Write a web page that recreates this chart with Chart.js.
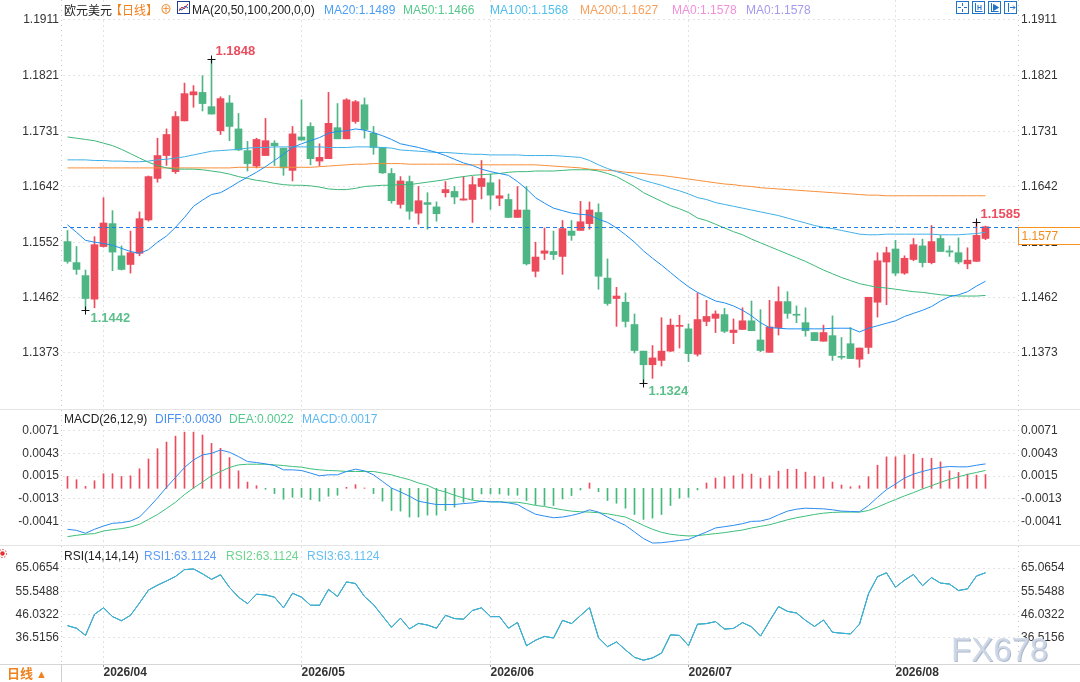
<!DOCTYPE html>
<html lang="zh">
<head>
<meta charset="UTF-8">
<title>欧元美元 日线</title>
<script src="https://cdn.jsdelivr.net/npm/chart.js"></script>
<style>
  body { margin: 0; background: #fff; }
  #wrap { position: relative; width: 1080px; height: 682px; overflow: hidden; background: #fff;
          font-family: "Liberation Sans", Arial, "Noto Sans CJK SC", sans-serif; font-size: 12px; }
  canvas { position: absolute; left: 0; }
  .t { position: absolute; line-height: 14px; white-space: nowrap; }
  .cjk { font-family: "Noto Sans CJK SC", sans-serif; }
  .hr { position: absolute; left: 0; width: 1080px; height: 1px; background: #e4e4e4; }
</style>
</head>
<body>
<div id="wrap">
  <canvas id="main" width="1080" height="409" style="top:0"></canvas>
  <canvas id="macd" width="1080" height="135" style="top:410px"></canvas>
  <canvas id="rsi" width="1080" height="136" style="top:546px"></canvas>

  <div class="hr" style="top:409px"></div>
  <div class="hr" style="top:545px"></div>
  <div class="hr" style="top:664px;background:#d6d6d6"></div>
  <div style="position:absolute;left:61px;top:664px;width:1px;height:18px;background:#cfcfcf"></div>

  <!-- main header -->
  <span class="t cjk" style="left:64px;top:3px;color:#222">欧元美元</span>
  <span class="t cjk" style="left:110px;top:3px;color:#f0821e">【日线】</span>
  <span class="t" style="left:160px;top:3px;color:#f0821e">⊕</span>
  <svg style="position:absolute;left:177px;top:1px" width="13" height="13">
    <rect x="0.5" y="0.5" width="12" height="12" fill="#fff" stroke="#1c3f94"/>
    <polyline points="2,10 5,6 7,8 11,3" fill="none" stroke="#e02020"/>
    <polyline points="2,8 5,9 8,5 11,7" fill="none" stroke="#2050c0"/>
  </svg>
  <span class="t" style="left:192px;top:3px;color:#222">MA(20,50,100,200,0,0)</span>
  <span class="t" id="hMA20" style="left:324px;top:3px;color:#4a9ff5"></span>
  <span class="t" id="hMA50" style="left:403px;top:3px;color:#55c98d"></span>
  <span class="t" id="hMA100" style="left:490px;top:3px;color:#4fc0ee"></span>
  <span class="t" id="hMA200" style="left:580px;top:3px;color:#f7a05c"></span>
  <span class="t" style="left:672px;top:3px;color:#f090d8">MA0:1.1578</span>
  <span class="t" style="left:746px;top:3px;color:#a49af0">MA0:1.1578</span>

  <!-- tool icons -->
  <svg style="position:absolute;left:956px;top:1px" width="13" height="13" stroke="#1f74c9" fill="none">
    <rect x="0.5" y="0.5" width="12" height="12"/>
    <path d="M6.5 2v3M6.5 8v3M2 6.5h3M8 6.5h3"/>
  </svg>
  <svg style="position:absolute;left:972px;top:1px" width="13" height="13" stroke="#1f74c9" fill="none">
    <rect x="0.5" y="0.5" width="12" height="12"/>
    <path d="M3.5 2v9M3.5 10.5h7M6 4v5M9 4v5M6 6.5h3"/>
  </svg>
  <svg style="position:absolute;left:988px;top:1px" width="13" height="13" stroke="#1f74c9" fill="none">
    <rect x="0.5" y="0.5" width="12" height="12"/>
    <path d="M3.5 2v9M3.5 10.5h7"/><path d="M5.5 3.5l5 3-5 3z" fill="#1f74c9"/>
  </svg>
  <svg style="position:absolute;left:1004px;top:1px" width="13" height="13" stroke="#1f74c9" fill="none">
    <rect x="0.5" y="0.5" width="12" height="12"/>
    <path d="M4.5 2v9M6 6.5h5M9 4.5l2 2-2 2"/>
  </svg>

  <!-- macd header -->
  <span class="t" style="left:64px;top:412px;color:#222">MACD(26,12,9)</span>
  <span class="t" id="hDIFF" style="left:155px;top:412px;color:#4a90f0"></span>
  <span class="t" id="hDEA" style="left:229px;top:412px;color:#55c98d"></span>
  <span class="t" id="hMACD" style="left:302px;top:412px;color:#5cb8f0"></span>

  <!-- rsi header -->
  <svg style="position:absolute;left:-2px;top:549px" width="10" height="10">
    <circle cx="4.5" cy="4.5" r="2.2" fill="#e43030"/>
    <circle cx="4.5" cy="4.5" r="4" fill="none" stroke="#e43030" stroke-dasharray="1.5 1.5"/>
  </svg>
  <span class="t" style="left:64px;top:549px;color:#222">RSI(14,14,14)</span>
  <span class="t" id="hRSI1" style="left:144px;top:549px;color:#5d9cf5"></span>
  <span class="t" id="hRSI2" style="left:226px;top:549px;color:#6dd48f"></span>
  <span class="t" id="hRSI3" style="left:307px;top:549px;color:#66bff2"></span>

  <span class="t cjk" style="left:7px;top:666px;color:#f0821e;font-weight:bold;font-size:13px">日线</span>
  <span class="t" style="left:36px;top:667px;color:#f0821e;font-size:11px">▲</span>

  <span class="t" style="left:951px;top:630px;font-size:33px;line-height:40px;color:rgba(206,216,231,0.92);text-shadow:1px 1px 0 #aeb9cb">FX678</span>
</div>

<script>
// trading days shown
const dates = [
  '2026-03-26','2026-03-27','2026-03-30','2026-03-31',
  '2026-04-01','2026-04-02','2026-04-03','2026-04-06','2026-04-07','2026-04-08','2026-04-09','2026-04-10',
  '2026-04-13','2026-04-14','2026-04-15','2026-04-16','2026-04-17','2026-04-20','2026-04-21','2026-04-22',
  '2026-04-23','2026-04-24','2026-04-27','2026-04-28','2026-04-29','2026-04-30',
  '2026-05-01','2026-05-04','2026-05-05','2026-05-06','2026-05-07','2026-05-08','2026-05-11','2026-05-12',
  '2026-05-13','2026-05-14','2026-05-15','2026-05-18','2026-05-19','2026-05-20','2026-05-21','2026-05-22',
  '2026-05-25','2026-05-26','2026-05-27','2026-05-28','2026-05-29',
  '2026-06-01','2026-06-02','2026-06-03','2026-06-04','2026-06-05','2026-06-08','2026-06-09','2026-06-10',
  '2026-06-11','2026-06-12','2026-06-15','2026-06-16','2026-06-17','2026-06-18','2026-06-19','2026-06-22',
  '2026-06-23','2026-06-24','2026-06-25','2026-06-26','2026-06-29','2026-06-30',
  '2026-07-01','2026-07-02','2026-07-03','2026-07-06','2026-07-07','2026-07-08','2026-07-09','2026-07-10',
  '2026-07-13','2026-07-14','2026-07-15','2026-07-16','2026-07-17','2026-07-20','2026-07-21','2026-07-22',
  '2026-07-23','2026-07-24','2026-07-27','2026-07-28','2026-07-29','2026-07-30','2026-07-31',
  '2026-08-03','2026-08-04','2026-08-05','2026-08-06','2026-08-07','2026-08-10','2026-08-11','2026-08-12',
  '2026-08-13','2026-08-14','2026-08-17'
];

const open = [
  1.1553,1.1519,1.1498,1.1460,1.1545,1.1582,1.1530,1.1516,1.1534,1.1588,
  1.1655,1.1692,1.1666,1.1748,1.1790,1.1794,1.1771,1.1732,1.1777,1.1735,
  1.1700,1.1675,1.1692,1.1712,1.1704,1.1668,1.1722,1.1739,1.1683,1.1687,
  1.1737,1.1719,1.1747,1.1774,1.1728,1.1705,1.1663,1.1613,1.1650,1.1599,
  1.1616,1.1609,1.1632,1.1634,1.1620,1.1621,1.1642,1.1648,1.1623,1.1621,
  1.1592,1.1604,1.1505,1.1534,1.1537,1.1529,1.1570,1.1571,1.1582,1.1600,
  1.1494,1.1461,1.1455,1.1419,1.1376,1.1354,1.1361,1.1376,1.1416,1.1412,
  1.1371,1.1424,1.1429,1.1435,1.1406,1.1411,1.1425,1.1394,1.1374,1.1414,
  1.1456,1.1435,1.1422,1.1406,1.1392,1.1401,1.1367,1.1388,1.1363,1.1382,
  1.1455,1.1520,1.1541,1.1502,1.1524,1.1546,1.1519,1.1558,1.1538,1.1535,
  1.1517,1.1521,1.1558
];
const high = [
  1.1571,1.1545,1.1507,1.1561,1.1624,1.1603,1.1546,1.1570,1.1601,1.1659,
  1.1720,1.1735,1.1763,1.1809,1.1805,1.1821,1.1848,1.1787,1.1789,1.1760,
  1.1715,1.1720,1.1752,1.1716,1.1704,1.1739,1.1782,1.1745,1.1711,1.1794,
  1.1776,1.1784,1.1781,1.1785,1.1739,1.1705,1.1671,1.1658,1.1659,1.1642,
  1.1632,1.1617,1.1650,1.1642,1.1658,1.1658,1.1684,1.1662,1.1653,1.1630,
  1.1642,1.1642,1.1552,1.1575,1.1570,1.1587,1.1587,1.1618,1.1617,1.1614,
  1.1525,1.1479,1.1470,1.1436,1.1376,1.1385,1.1430,1.1428,1.1434,1.1420,
  1.1470,1.1458,1.1441,1.1445,1.1428,1.1446,1.1457,1.1443,1.1458,1.1480,
  1.1472,1.1449,1.1446,1.1406,1.1418,1.1433,1.1398,1.1414,1.1381,1.1463,
  1.1535,1.1544,1.1555,1.1530,1.1558,1.1557,1.1579,1.1563,1.1546,1.1559,
  1.1543,1.1585,1.1578
];
const low = [
  1.1518,1.1500,1.1442,1.1446,1.1544,1.1506,1.1507,1.1502,1.1530,1.1586,
  1.1649,1.1676,1.1663,1.1748,1.1770,1.1764,1.1759,1.1726,1.1716,1.1700,
  1.1667,1.1672,1.1692,1.1676,1.1660,1.1651,1.1717,1.1677,1.1675,1.1687,
  1.1719,1.1719,1.1744,1.1720,1.1694,1.1663,1.1615,1.1607,1.1589,1.1581,
  1.1573,1.1586,1.1625,1.1614,1.1620,1.1584,1.1622,1.1605,1.1611,1.1592,
  1.1592,1.1515,1.1496,1.1524,1.1524,1.1500,1.1555,1.1571,1.1573,1.1476,
  1.1450,1.1416,1.1415,1.1373,1.1324,1.1332,1.1352,1.1375,1.1381,1.1359,
  1.1368,1.1417,1.1406,1.1406,1.1388,1.1411,1.1409,1.1375,1.1374,1.1402,
  1.1429,1.1422,1.1400,1.1393,1.1392,1.1361,1.1363,1.1364,1.1350,1.1372,
  1.1431,1.1451,1.1498,1.1500,1.1522,1.1512,1.1517,1.1537,1.1529,1.1517,
  1.1509,1.1521,1.1556
];
const close = [
  1.1521,1.1508,1.1461,1.1548,1.1583,1.1536,1.1508,1.1535,1.1590,1.1658,
  1.1692,1.1726,1.1755,1.1792,1.1795,1.1776,1.1759,1.1784,1.1739,1.1701,
  1.1679,1.1718,1.1716,1.1708,1.1672,1.1727,1.1717,1.1687,1.1689,1.1744,
  1.1719,1.1782,1.1779,1.1734,1.1705,1.1664,1.1619,1.1651,1.1602,1.1619,
  1.1613,1.1598,1.1637,1.1625,1.1622,1.1645,1.1655,1.1628,1.1627,1.1592,
  1.1604,1.1517,1.1528,1.1538,1.1532,1.1574,1.1563,1.1585,1.1604,1.1497,
  1.1453,1.1465,1.1424,1.1377,1.1354,1.1365,1.1376,1.1418,1.1417,1.1372,
  1.1427,1.1432,1.1436,1.1408,1.1410,1.1425,1.1409,1.1377,1.1415,1.1456,
  1.1437,1.1434,1.1409,1.1393,1.1406,1.1369,1.1366,1.1364,1.1381,1.1463,
  1.1522,1.1535,1.1502,1.1526,1.1548,1.1519,1.1553,1.1537,1.1536,1.1520,
  1.1523,1.1563,1.1577
];

const ma20 = [
  1.1580,1.1568,1.1555,1.1552,1.1550,1.1547,1.1542,1.1537,1.1534,1.1540,
  1.1552,1.1562,1.1576,1.1592,1.1610,1.1620,1.1629,1.1632,1.1640,1.1649,
  1.1657,1.1665,1.1674,1.1684,1.1694,1.1705,1.1711,1.1716,1.1721,1.1728,
  1.1731,1.1732,1.1735,1.1733,1.1729,1.1724,1.1718,1.1711,1.1708,1.1705,
  1.1701,1.1697,1.1692,1.1686,1.1680,1.1676,1.1670,1.1666,1.1663,1.1660,
  1.1650,1.1638,1.1624,1.1615,1.1607,1.1603,1.1599,1.1597,1.1596,1.1589,
  1.1584,1.1575,1.1564,1.1552,1.1538,1.1526,1.1515,1.1503,1.1491,1.1480,
  1.1471,1.1464,1.1457,1.1454,1.1449,1.1442,1.1433,1.1422,1.1414,1.1413,
  1.1412,1.1412,1.1412,1.1412,1.1412,1.1413,1.1413,1.1413,1.1407,1.1413,
  1.1417,1.1421,1.1425,1.1432,1.1437,1.1442,1.1448,1.1457,1.1464,1.1467,
  1.1472,1.1481,1.1489
];
const ma50 = [
  1.1722,1.1720,1.1718,1.1716,1.1712,1.1708,1.1702,1.1695,1.1688,1.1681,
  1.1676,1.1672,1.1670,1.1670,1.1670,1.1669,1.1667,1.1665,1.1662,1.1658,
  1.1655,1.1652,1.1650,1.1647,1.1645,1.1644,1.1644,1.1643,1.1641,1.1638,
  1.1637,1.1637,1.1639,1.1642,1.1643,1.1644,1.1644,1.1645,1.1645,1.1647,
  1.1649,1.1651,1.1653,1.1656,1.1658,1.1660,1.1661,1.1662,1.1663,1.1665,
  1.1666,1.1666,1.1667,1.1667,1.1667,1.1668,1.1669,1.1669,1.1669,1.1667,
  1.1663,1.1658,1.1650,1.1642,1.1632,1.1625,1.1618,1.1611,1.1606,1.1600,
  1.1591,1.1587,1.1581,1.1575,1.1569,1.1564,1.1557,1.1551,1.1545,1.1539,
  1.1533,1.1527,1.1521,1.1514,1.1507,1.1501,1.1495,1.1490,1.1485,1.1482,
  1.1479,1.1478,1.1476,1.1474,1.1472,1.1471,1.1469,1.1467,1.1466,1.1465,
  1.1465,1.1465,1.1466
];
const ma100 = [
  1.1685,1.1685,1.1685,1.1684,1.1684,1.1683,1.1683,1.1682,1.1682,1.1683,
  1.1685,1.1686,1.1688,1.1690,1.1693,1.1696,1.1699,1.1700,1.1701,1.1702,
  1.1704,1.1705,1.1705,1.1706,1.1706,1.1706,1.1706,1.1706,1.1706,1.1705,
  1.1705,1.1705,1.1706,1.1706,1.1706,1.1705,1.1704,1.1701,1.1700,1.1699,
  1.1698,1.1697,1.1697,1.1696,1.1695,1.1694,1.1694,1.1693,1.1693,1.1693,
  1.1693,1.1692,1.1692,1.1692,1.1692,1.1691,1.1690,1.1689,1.1684,1.1677,
  1.1671,1.1666,1.1662,1.1657,1.1652,1.1648,1.1644,1.1639,1.1635,1.1630,
  1.1624,1.1621,1.1616,1.1613,1.1610,1.1607,1.1604,1.1601,1.1598,1.1595,
  1.1591,1.1587,1.1583,1.1579,1.1576,1.1574,1.1571,1.1568,1.1565,1.1564,
  1.1564,1.1565,1.1565,1.1565,1.1565,1.1565,1.1565,1.1564,1.1564,1.1564,
  1.1565,1.1566,1.1568
];
const ma200 = [
  1.1672,1.1672,1.1672,1.1672,1.1672,1.1672,1.1672,1.1672,1.1672,1.1672,
  1.1672,1.1672,1.1672,1.1672,1.1672,1.1672,1.1672,1.1672,1.1672,1.1673,
  1.1673,1.1673,1.1673,1.1673,1.1673,1.1673,1.1673,1.1673,1.1674,1.1675,
  1.1676,1.1677,1.1678,1.1678,1.1679,1.1679,1.1679,1.1679,1.1678,1.1678,
  1.1678,1.1678,1.1678,1.1678,1.1677,1.1677,1.1677,1.1677,1.1677,1.1677,
  1.1677,1.1677,1.1677,1.1676,1.1675,1.1674,1.1673,1.1672,1.1670,1.1669,
  1.1668,1.1667,1.1665,1.1664,1.1663,1.1661,1.1660,1.1658,1.1656,1.1654,
  1.1652,1.1650,1.1648,1.1646,1.1645,1.1643,1.1642,1.1640,1.1639,1.1638,
  1.1637,1.1636,1.1635,1.1634,1.1633,1.1632,1.1631,1.1630,1.1629,1.1628,
  1.1628,1.1627,1.1627,1.1627,1.1627,1.1627,1.1627,1.1627,1.1627,1.1627,
  1.1627,1.1627,1.1627
];

const macdHist = [
  0.00146,0.00106,0.00024,0.00093,0.00179,0.00179,0.00146,0.00154,0.00240,0.00361,
  0.00487,0.00568,0.00641,0.00690,0.00690,0.00654,0.00552,0.00491,0.00378,0.00215,
  0.00077,0.00032,-0.00012,-0.00065,-0.00134,-0.00110,-0.00110,-0.00138,-0.00158,-0.00097,
  -0.00085,0.00012,0.00045,0.00004,-0.00065,-0.00158,-0.00272,-0.00280,-0.00353,-0.00353,
  -0.00329,-0.00329,-0.00272,-0.00231,-0.00171,-0.00138,-0.00069,-0.00069,-0.00069,-0.00085,
  -0.00085,-0.00150,-0.00200,-0.00211,-0.00211,-0.00130,-0.00089,-0.00020,0.00065,-0.00041,
  -0.00150,-0.00183,-0.00244,-0.00321,-0.00382,-0.00365,-0.00321,-0.00211,-0.00122,-0.00110,
  -0.00020,0.00065,0.00126,0.00142,0.00154,0.00175,0.00175,0.00126,0.00154,0.00211,
  0.00235,0.00235,0.00199,0.00150,0.00138,0.00077,0.00041,0.00020,0.00032,0.00142,
  0.00284,0.00386,0.00386,0.00410,0.00418,0.00369,0.00369,0.00325,0.00215,0.00195,
  0.00175,0.00162,0.00170
];
const diff = [
  -0.00503,-0.00516,-0.00552,-0.00503,-0.00463,-0.00430,-0.00422,-0.00402,-0.00353,-0.00240,
  -0.00118,0.00012,0.00134,0.00256,0.00349,0.00410,0.00430,0.00471,0.00443,0.00390,
  0.00329,0.00317,0.00300,0.00280,0.00227,0.00227,0.00219,0.00187,0.00154,0.00166,
  0.00166,0.00207,0.00235,0.00215,0.00166,0.00085,0.00004,-0.00045,-0.00097,-0.00158,
  -0.00179,-0.00199,-0.00199,-0.00199,-0.00187,-0.00179,-0.00158,-0.00166,-0.00166,-0.00179,
  -0.00199,-0.00262,-0.00318,-0.00341,-0.00361,-0.00353,-0.00333,-0.00305,-0.00264,-0.00292,
  -0.00353,-0.00406,-0.00455,-0.00536,-0.00617,-0.00672,-0.00668,-0.00655,-0.00640,-0.00629,
  -0.00581,-0.00536,-0.00487,-0.00471,-0.00455,-0.00434,-0.00406,-0.00402,-0.00374,-0.00325,
  -0.00280,-0.00256,-0.00244,-0.00248,-0.00252,-0.00264,-0.00280,-0.00284,-0.00288,-0.00211,
  -0.00110,-0.00016,0.00053,0.00126,0.00175,0.00207,0.00235,0.00256,0.00268,0.00264,
  0.00264,0.00284,0.00300
];
const dea = [
  -0.00593,-0.00577,-0.00564,-0.00556,-0.00524,-0.00508,-0.00495,-0.00475,-0.00442,-0.00382,
  -0.00321,-0.00248,-0.00171,-0.00077,0.00004,0.00077,0.00154,0.00207,0.00256,0.00288,
  0.00296,0.00296,0.00296,0.00288,0.00280,0.00268,0.00260,0.00240,0.00227,0.00219,
  0.00215,0.00207,0.00207,0.00207,0.00207,0.00187,0.00166,0.00134,0.00106,0.00065,
  0.00037,-0.00016,-0.00045,-0.00085,-0.00118,-0.00146,-0.00158,-0.00166,-0.00166,-0.00171,
  -0.00171,-0.00187,-0.00210,-0.00223,-0.00244,-0.00264,-0.00280,-0.00288,-0.00292,-0.00300,
  -0.00313,-0.00333,-0.00353,-0.00402,-0.00455,-0.00503,-0.00540,-0.00564,-0.00577,-0.00585,
  -0.00581,-0.00568,-0.00556,-0.00544,-0.00528,-0.00512,-0.00487,-0.00467,-0.00447,-0.00418,
  -0.00386,-0.00361,-0.00341,-0.00321,-0.00305,-0.00296,-0.00292,-0.00292,-0.00292,-0.00272,
  -0.00231,-0.00183,-0.00138,-0.00093,-0.00053,-0.00008,0.00032,0.00073,0.00110,0.00142,
  0.00171,0.00195,0.00220
];
const rsi = [
  41.44,40.38,37.47,46.09,48.74,45.16,43.46,45.69,50.73,56.04,
  58.03,59.76,61.61,64.40,64.67,62.68,60.42,62.28,57.10,53.12,
  50.47,54.32,54.05,53.12,48.74,54.71,53.12,49.80,49.80,56.31,
  53.39,59.36,58.70,53.39,50.07,45.43,40.78,44.50,40.12,42.37,
  41.71,40.38,45.69,44.36,44.10,47.68,48.74,45.16,45.16,40.38,
  42.77,33.22,35.47,37.04,36.38,43.62,42.30,45.59,48.88,36.51,
  32.82,34.80,31.51,28.48,27.30,28.22,30.19,37.69,37.43,33.22,
  42.04,42.30,43.09,40.06,40.32,42.69,40.98,37.17,43.35,49.27,
  47.30,46.64,43.62,41.12,43.75,38.75,38.35,38.09,42.04,54.54,
  61.51,63.09,57.17,60.07,62.43,57.83,61.12,58.88,58.49,55.85,
  56.51,61.78,63.1124
];

// axis tick labels
const priceTicks = [1.1911, 1.1821, 1.1731, 1.1642, 1.1552, 1.1462, 1.1373];
const macdTicks = [0.0071, 0.0043, 0.0015, -0.0013, -0.0041];
const rsiTicks = [65.0654, 55.5488, 46.0322, 36.5156];

// marked extremes (candle indexes)
const highMarks = [16, 101];
const lowMarks = [2, 64];

const FONT = '"Liberation Sans", Arial, sans-serif';
const UP = '#eb4b5b', DOWN = '#4db684';

// 3 empty slots on the right, as in the terminal view
const labels = dates.concat(['', '', '']);
const monthStart = labels.map((d, i) => i > 0 && d !== '' && d.slice(0, 7) !== labels[i - 1].slice(0, 7));
const candleColor = close.map((c, i) => c >= open[i] ? UP : DOWN);

const last = close.length - 1;
document.getElementById('hMA20').textContent = 'MA20:' + ma20[last].toFixed(4);
document.getElementById('hMA50').textContent = 'MA50:' + ma50[last].toFixed(4);
document.getElementById('hMA100').textContent = 'MA100:' + ma100[last].toFixed(4);
document.getElementById('hMA200').textContent = 'MA200:' + ma200[last].toFixed(4);
document.getElementById('hDIFF').textContent = 'DIFF:' + diff[last].toFixed(4);
document.getElementById('hDEA').textContent = 'DEA:' + dea[last].toFixed(4);
document.getElementById('hMACD').textContent = 'MACD:' + macdHist[last].toFixed(4);
['hRSI1', 'hRSI2', 'hRSI3'].forEach((id, k) => {
  document.getElementById(id).textContent = 'RSI' + (k + 1) + ':' + rsi[last].toFixed(4);
});

function yAxis(pos, min, max, ticks, showGrid) {
  return {
    position: pos, min: min, max: max,
    afterBuildTicks: s => { s.ticks = ticks.map(v => ({ value: v })); },
    afterFit: s => { s.width = 63; s.paddingTop = 0; s.paddingBottom = 0; },
    ticks: { callback: v => v.toFixed(4), color: '#333', font: { family: FONT, size: 12 }, padding: 4, autoSkip: false },
    grid: { display: showGrid, drawOnChartArea: showGrid, drawTicks: false, color: '#e4e4e4' },
    border: { display: false, dash: [2, 3] }
  };
}

function xAxis(showLabels) {
  const lineColor = c => monthStart[c.index] ? '#e2e2e2' : 'rgba(0,0,0,0)';
  return {
    offset: true,
    afterFit: s => { s.height = showLabels ? 18 : 0; s.paddingLeft = 0; s.paddingRight = 0; },
    ticks: {
      display: showLabels, autoSkip: false, maxRotation: 0, minRotation: 0, align: 'start', padding: -2,
      color: '#333', font: { family: FONT, size: 12, weight: 'bold' },
      callback: (v, i) => monthStart[i] ? labels[i].slice(0, 7).replace('-', '/') : ''
    },
    grid: {
      offset: false, drawTicks: showLabels, tickLength: 3, color: lineColor,
      tickColor: c => monthStart[c.index] ? '#9a9a9a' : 'rgba(0,0,0,0)'
    },
    border: { display: false, dash: [2, 3] }
  };
}

const edges = {
  id: 'edges',
  beforeDatasetsDraw(chart) {
    const { ctx, chartArea: a } = chart;
    ctx.save();
    ctx.strokeStyle = '#c4c4c4';
    ctx.lineWidth = 1;
    ctx.setLineDash([1, 4]);
    ctx.beginPath();
    ctx.moveTo(a.left - 1.5, a.top); ctx.lineTo(a.left - 1.5, a.bottom);
    ctx.moveTo(a.right + 1.5, a.top); ctx.lineTo(a.right + 1.5, a.bottom);
    ctx.stroke();
    ctx.restore();
  }
};

function cross(ctx, x, y) {
  ctx.strokeStyle = '#111';
  ctx.lineWidth = 1;
  ctx.beginPath();
  ctx.moveTo(x - 4, y); ctx.lineTo(x + 4, y);
  ctx.moveTo(x, y - 4); ctx.lineTo(x, y + 4);
  ctx.stroke();
}

const priceMarks = {
  id: 'priceMarks',
  afterDatasetsDraw(chart) {
    const { ctx, chartArea: a, scales: { x, y } } = chart;
    ctx.save();
    const py = Math.round(y.getPixelForValue(close[last])) + 0.5;
    ctx.strokeStyle = '#1f7fe8';
    ctx.lineWidth = 1;
    ctx.setLineDash([4, 3]);
    ctx.beginPath(); ctx.moveTo(a.left, py); ctx.lineTo(chart.width - 4, py); ctx.stroke();
    ctx.setLineDash([]);

    ctx.font = 'bold 13px ' + FONT;
    ctx.textBaseline = 'middle';
    ctx.textAlign = 'left';
    highMarks.forEach(i => {
      const px = Math.floor(x.getPixelForValue(i)) + 0.5;
      const hy = Math.round(y.getPixelForValue(high[i])) + 0.5;
      cross(ctx, px, hy);
      ctx.fillStyle = '#ec4d5e';
      ctx.fillText(high[i].toFixed(4), px + 4, hy - 8);
    });
    lowMarks.forEach(i => {
      const px = Math.floor(x.getPixelForValue(i)) + 0.5;
      const ly = Math.round(y.getPixelForValue(low[i])) + 0.5;
      cross(ctx, px, ly);
      ctx.fillStyle = '#5cbf8b';
      ctx.fillText(low[i].toFixed(4), px + 5, ly + 8);
    });
    ctx.restore();
  },
  afterDraw(chart) {
    const { ctx, chartArea: a, scales: { y } } = chart;
    const py = Math.round(y.getPixelForValue(close[last])) + 0.5;
    const bx = Math.round(a.right) + 1.5;
    ctx.save();
    ctx.fillStyle = '#fff';
    ctx.fillRect(bx, py, chart.width - bx + 2, 17);
    ctx.strokeStyle = '#f7931e';
    ctx.lineWidth = 1;
    ctx.strokeRect(bx, py, chart.width, 17);
    ctx.fillStyle = '#f48a1c';
    ctx.font = '12px ' + FONT;
    ctx.textBaseline = 'middle';
    ctx.textAlign = 'left';
    ctx.fillText(close[last].toFixed(4), bx + 3, py + 9);
    ctx.restore();
  }
};

const base = {
  responsive: false,
  animation: false,
  layout: { padding: 0 },
  plugins: { legend: { display: false }, tooltip: { enabled: false } },
  events: []
};

function maLine(label, data, color, order) {
  return { type: 'line', label: label, data: data, borderColor: color, borderWidth: 1,
           pointRadius: 0, fill: false, tension: 0, order: order };
}

new Chart(document.getElementById('main'), {
  type: 'bar',
  data: {
    labels: labels,
    datasets: [
      maLine('MA20', ma20, '#1f8ef1', 0),
      maLine('MA50', ma50, '#3cb878', 1),
      maLine('MA100', ma100, '#3fb0e6', 2),
      maLine('MA200', ma200, '#f78f3a', 3),
      { type: 'bar', label: 'body', data: open.map((o, i) => [o, close[i]]), backgroundColor: candleColor,
        barThickness: 7, grouped: false, minBarLength: 1, borderWidth: 0, order: 5 },
      { type: 'bar', label: 'wick', data: low.map((l, i) => [l, high[i]]), backgroundColor: candleColor,
        barThickness: 1, grouped: false, borderWidth: 0, order: 6 }
    ]
  },
  options: Object.assign({}, base, {
    scales: {
      x: xAxis(false),
      y: yAxis('left', 1.12825, 1.19433, priceTicks, true),
      y2: yAxis('right', 1.12825, 1.19433, priceTicks, false)
    }
  }),
  plugins: [edges, priceMarks]
});

new Chart(document.getElementById('macd'), {
  type: 'bar',
  data: {
    labels: labels,
    datasets: [
      maLine('DIFF', diff, '#2b8cf0', 0),
      maLine('DEA', dea, '#3cbf7a', 1),
      { type: 'bar', label: 'MACD', data: macdHist, barThickness: 1, borderWidth: 0, order: 2,
        backgroundColor: macdHist.map(v => v >= 0 ? '#ee4a5c' : '#44b97a') }
    ]
  },
  options: Object.assign({}, base, {
    scales: {
      x: xAxis(false),
      y: yAxis('left', -0.00696, 0.00962, macdTicks, true),
      y2: yAxis('right', -0.00696, 0.00962, macdTicks, false)
    }
  }),
  plugins: [edges]
});

new Chart(document.getElementById('rsi'), {
  type: 'line',
  data: {
    labels: labels,
    datasets: [
      maLine('RSI3', rsi, '#3aaee3', 0),
      maLine('RSI2', rsi, '#4cc27f', 1),
      maLine('RSI1', rsi, '#4f8ff0', 2)
    ]
  },
  options: Object.assign({}, base, {
    scales: {
      x: xAxis(true),
      y: yAxis('left', 25.74, 74.08, rsiTicks, true),
      y2: yAxis('right', 25.74, 74.08, rsiTicks, false)
    }
  }),
  plugins: [edges]
});
</script>
</body>
</html>
